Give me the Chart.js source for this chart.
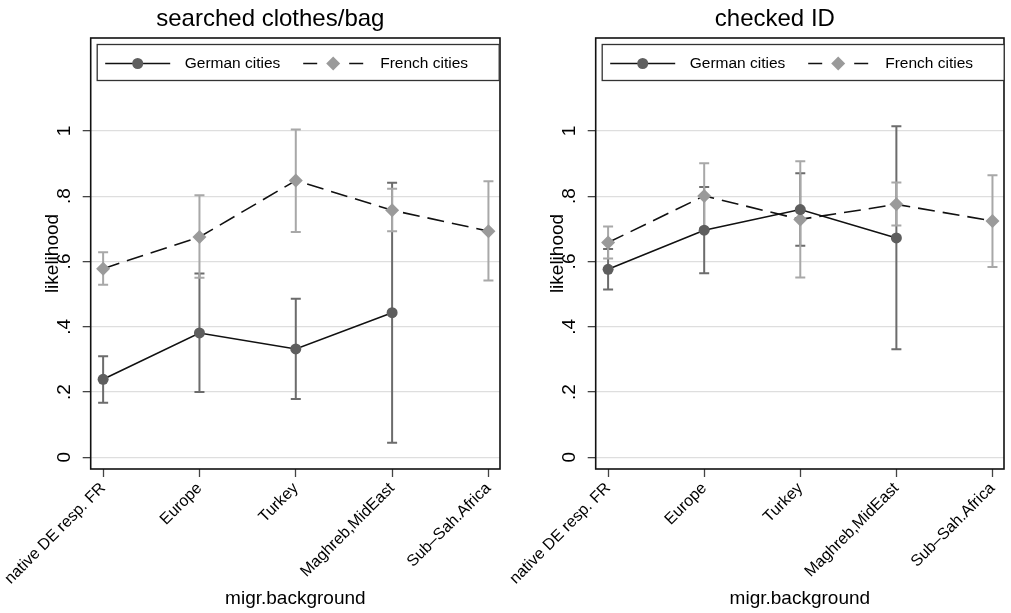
<!DOCTYPE html>
<html>
<head>
<meta charset="utf-8">
<title>Police checks by migration background</title>
<script src="https://cdn.jsdelivr.net/npm/chart.js@4.4.1/dist/chart.umd.min.js"></script>
<style>
  html, body { margin: 0; padding: 0; background: #fff; }
  #wrap { position: relative; width: 1011px; height: 613px; overflow: hidden; }
  canvas { position: absolute; top: 0; }
  #searchChart { left: 0; }
  #idChart { left: 505px; }
</style>
</head>
<body>
<div id="wrap">
  <canvas id="searchChart" width="507" height="613"></canvas>
  <canvas id="idChart" width="506" height="613"></canvas>
</div>
<script>
const categories = ["native DE resp. FR", "Europe", "Turkey", "Maghreb,MidEast", "Sub\u2013Sah.Africa"];
const yTicks = [0, 0.2, 0.4, 0.6, 0.8, 1];
const yTickLabels = ["0", ".2", ".4", ".6", ".8", "1"];

// searched clothes/bag
const germanSearch   = [0.239, 0.381, 0.332, 0.443, null];
const germanSearchLo = [0.167, 0.200, 0.179, 0.045, null];
const germanSearchHi = [0.310, 0.563, 0.486, 0.841, null];
const frenchSearch   = [0.578, 0.675, 0.848, 0.757, 0.693];
const frenchSearchLo = [0.529, 0.550, 0.690, 0.693, 0.542];
const frenchSearchHi = [0.628, 0.803, 1.004, 0.823, 0.846];

// checked ID
const germanId   = [0.576, 0.696, 0.759, 0.672, null];
const germanIdLo = [0.514, 0.564, 0.648, 0.331, null];
const germanIdHi = [0.638, 0.828, 0.870, 1.014, null];
const frenchId   = [0.658, 0.801, 0.729, 0.775, 0.724];
const frenchIdLo = [0.609, 0.701, 0.551, 0.710, 0.583];
const frenchIdHi = [0.707, 0.901, 0.907, 0.842, 0.864];

const FONT = "'Liberation Sans', Arial, Helvetica, sans-serif";
const GERMAN_DOT = "#5e5e5e";
const GERMAN_CI = "#6c6c6c";
const FRENCH_DOT = "#9a9a9a";
const FRENCH_CI = "#a8a8a8";
const DASH = [17, 8];

const toPoints = vals => vals.map((v, i) => ({ x: i, y: v }));

// plot frame + confidence intervals, under the connected lines
const frameAndCi = {
  id: "frameAndCi",
  beforeDatasetsDraw(chart) {
    const { ctx, chartArea: a, scales: { x, y } } = chart;
    ctx.save();
    ctx.strokeStyle = "#111";
    ctx.lineWidth = 1.6;
    ctx.strokeRect(a.left, a.top, a.right - a.left, a.bottom - a.top);

    ctx.lineWidth = 2;
    chart.data.datasets.forEach(ds => {
      ctx.strokeStyle = ds.ciColor;
      ds.lo.forEach((lo, i) => {
        const hi = ds.hi[i];
        if (lo == null || hi == null) return;
        const px = x.getPixelForValue(i);
        const top = y.getPixelForValue(hi);
        const bot = y.getPixelForValue(lo);
        ctx.beginPath();
        ctx.moveTo(px, top); ctx.lineTo(px, bot);
        ctx.moveTo(px - 5, top); ctx.lineTo(px + 5, top);
        ctx.moveTo(px - 5, bot); ctx.lineTo(px + 5, bot);
        ctx.stroke();
      });
    });
    ctx.restore();
  }
};

const panelHead = {
  id: "panelHead",
  afterDraw(chart, args, opts) {
    const { ctx, chartArea: a } = chart;
    ctx.save();
    ctx.fillStyle = "#000";
    ctx.font = "24px " + FONT;
    ctx.textAlign = "center";
    ctx.textBaseline = "alphabetic";
    ctx.fillText(opts.text, (a.left + a.right) / 2 - 25, 26);
    ctx.restore();
  }
};

function drawMarker(ctx, ds, cx, cy) {
  ctx.fillStyle = ds.pointBackgroundColor;
  ctx.beginPath();
  if (ds.pointStyle === "rectRot") {
    const r = ds.pointRadius;
    ctx.moveTo(cx, cy - r); ctx.lineTo(cx + r, cy);
    ctx.lineTo(cx, cy + r); ctx.lineTo(cx - r, cy);
    ctx.closePath();
  } else {
    ctx.arc(cx, cy, ds.pointRadius, 0, Math.PI * 2);
  }
  ctx.fill();
}

// boxed key sitting inside the top of the plot region
const panelLegend = {
  id: "panelLegend",
  afterDraw(chart) {
    const { ctx, chartArea: a } = chart;
    const left = a.left + 6.5, top = a.top + 6.5;
    const cy = top + 19;
    ctx.save();
    ctx.strokeStyle = "#333";
    ctx.lineWidth = 1.3;
    ctx.fillStyle = "#fff";
    ctx.fillRect(left, top, 402, 36);
    ctx.strokeRect(left, top, 402, 36);

    const slots = [{ x0: 8, x1: 73, text: 87.5 }, { x0: 206, x1: 266, text: 283 }];
    chart.data.datasets.forEach((ds, k) => {
      const s = slots[k];
      ctx.strokeStyle = ds.borderColor;
      ctx.lineWidth = ds.borderWidth;
      ctx.beginPath();
      if (ds.borderDash) {
        ctx.moveTo(left + s.x0, cy); ctx.lineTo(left + s.x0 + 14, cy);
        ctx.moveTo(left + s.x1 - 14, cy); ctx.lineTo(left + s.x1, cy);
      } else {
        ctx.moveTo(left + s.x0, cy); ctx.lineTo(left + s.x1, cy);
      }
      ctx.stroke();
      drawMarker(ctx, ds, left + (s.x0 + s.x1) / 2, cy);
      ctx.fillStyle = "#000";
      ctx.font = "15.5px " + FONT;
      ctx.textBaseline = "middle";
      ctx.textAlign = "left";
      ctx.fillText(ds.label, left + s.text, cy);
    });
    ctx.restore();
  }
};

function makePanel(canvasId, title, german, germanLo, germanHi, french, frenchLo, frenchHi, padRight) {
  return new Chart(document.getElementById(canvasId), {
    type: "line",
    data: {
      datasets: [
        {
          label: "German cities",
          data: toPoints(german),
          lo: germanLo, hi: germanHi, ciColor: GERMAN_CI,
          borderColor: "#111", borderWidth: 1.6,
          pointStyle: "circle", pointRadius: 5.5,
          pointBackgroundColor: GERMAN_DOT, pointBorderWidth: 0,
          tension: 0
        },
        {
          label: "French cities",
          data: toPoints(french),
          lo: frenchLo, hi: frenchHi, ciColor: FRENCH_CI,
          borderColor: "#111", borderWidth: 1.6, borderDash: DASH,
          pointStyle: "rectRot", pointRadius: 7,
          pointBackgroundColor: FRENCH_DOT, pointBorderWidth: 0,
          tension: 0
        }
      ]
    },
    options: {
      responsive: false,
      animation: false,
      devicePixelRatio: 1,
      layout: { padding: { top: 38, right: padRight, bottom: 0, left: 0 } },
      plugins: {
        legend: { display: false },
        tooltip: { enabled: false },
        panelHead: { text: title }
      },
      scales: {
        x: {
          type: "linear",
          min: -0.129,
          max: 4.12,
          afterBuildTicks: s => { s.ticks = categories.map((c, i) => ({ value: i })); },
          afterFit: s => { s.height = 144; },
          border: { display: false },
          grid: { drawOnChartArea: false, tickLength: 8, tickColor: "#444", tickWidth: 1.3 },
          ticks: {
            autoSkip: false,
            minRotation: 45,
            maxRotation: 45,
            padding: 2,
            color: "#000",
            font: { family: FONT, size: 16 },
            callback: v => categories[v]
          },
          title: {
            display: true,
            text: "migr.background",
            color: "#000",
            font: { family: FONT, size: 19 },
            padding: { top: 0, bottom: 3 }
          }
        },
        y: {
          min: -0.0358,
          max: 1.2847,
          afterBuildTicks: s => { s.ticks = yTicks.map(v => ({ value: v })); },
          afterFit: s => { s.width = 90.7; },
          border: { display: false },
          grid: { color: "#dedede", lineWidth: 1.3, tickLength: 8, tickColor: "#444", tickWidth: 1.3 },
          ticks: {
            minRotation: 90,
            maxRotation: 90,
            crossAlign: "center",
            padding: 10,
            color: "#000",
            font: { family: FONT, size: 19 },
            callback: v => yTickLabels[yTicks.indexOf(v)]
          },
          title: {
            display: true,
            text: "likelihood",
            color: "#000",
            font: { family: FONT, size: 19 },
            padding: { top: 41, bottom: 0 }
          }
        }
      }
    },
    plugins: [frameAndCi, panelHead, panelLegend]
  });
}

makePanel("searchChart", "searched clothes/bag",
  germanSearch, germanSearchLo, germanSearchHi, frenchSearch, frenchSearchLo, frenchSearchHi, 2);
makePanel("idChart", "checked ID",
  germanId, germanIdLo, germanIdHi, frenchId, frenchIdLo, frenchIdHi, 1);
</script>
</body>
</html>
